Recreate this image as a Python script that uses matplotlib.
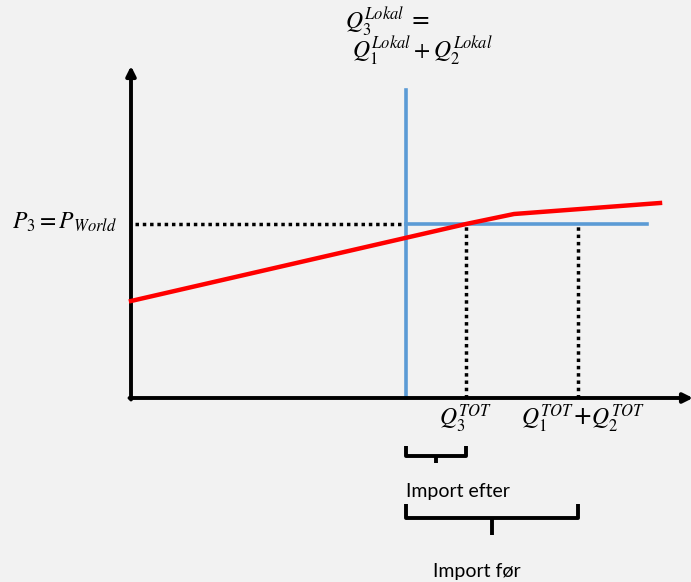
import matplotlib.pyplot as plt

plt.rcParams['mathtext.fontset'] = 'stix'

# Diagram values (origin at the corner of the axes, units ~ pixels)
supply_q = [0, 335, 383, 529]
supply_p = [97, 174, 184, 195]
q_lokal = 275
q3_tot = 335
q12_tot = 447
p_world = 174
world_end = 516
lokal_top = 308

fig = plt.figure(figsize=(6.91, 5.82), dpi=100, facecolor='#f2f2f2')
ax = fig.add_axes([0, 0, 1, 1])
ax.set_facecolor('#f2f2f2')
ax.set_xlim(-131, 560)
ax.set_ylim(-184, 398)
ax.axis('off')

# axes with arrows
ax.annotate('', xy=(0, 332), xytext=(0, -1.5), annotation_clip=False,
            arrowprops=dict(arrowstyle='-|>', color='black', lw=2.8,
                            mutation_scale=14, shrinkA=0, shrinkB=0))
ax.annotate('', xy=(562, 0), xytext=(-1.5, 0), annotation_clip=False,
            arrowprops=dict(arrowstyle='-|>', color='black', lw=2.8,
                            mutation_scale=14, shrinkA=0, shrinkB=0))

# world price and local quantity (blue)
ax.plot([q_lokal, q_lokal], [0, lokal_top], color='#5b9bd5', lw=2.6, zorder=2)
ax.plot([q_lokal, world_end], [p_world, p_world], color='#5b9bd5', lw=2.6, zorder=2)

# supply curve (red)
ax.plot(supply_q, supply_p, color='red', lw=3.2, zorder=3, solid_joinstyle='round')

# dotted guides
dots = dict(color='black', lw=2.5, ls=(0, (1, 1.1)), zorder=1)
ax.plot([4, q_lokal], [p_world, p_world], **dots)
ax.plot([q3_tot, q3_tot], [0, p_world], **dots)
ax.plot([q12_tot, q12_tot], [0, p_world], **dots)

# labels
ax.text(-66, 176, r'$P_3 = P_{World}$', fontsize=17, ha='center', va='center')
ax.text(q3_tot, -5, r'$Q_3^{TOT}$', fontsize=17, ha='center', va='top')
ax.text(452, -5, r'$Q_1^{TOT}$+$Q_2^{TOT}$', fontsize=17, ha='center', va='top')
ax.text(214, 376, r'$Q_3^{Lokal}$ =', fontsize=17, ha='left', va='center')
ax.text(221, 347, r'$Q_1^{Lokal} + Q_2^{Lokal}$', fontsize=17, ha='left', va='center')

# brackets
def bracket(x0, x1, ytop, ybot, ytip):
    xm = (x0 + x1) / 2
    ax.plot([x0, x0, x1, x1], [ytop, ybot, ybot, ytop], color='black', lw=2.8,
            solid_joinstyle='round', solid_capstyle='butt')
    ax.plot([xm, xm], [ybot, ytip], color='black', lw=2.8, solid_capstyle='butt')

bracket(q_lokal, q3_tot, -48, -58, -65)
bracket(q_lokal, q12_tot, -106, -120, -137)

ax.text(q_lokal, -94, 'Import efter', fontsize=14, family='Lato', ha='left', va='center')
ax.text(433 - 131, -174, 'Import før', fontsize=14, family='Lato', ha='left', va='center')

plt.savefig('out.png', dpi=100, facecolor=fig.get_facecolor())
